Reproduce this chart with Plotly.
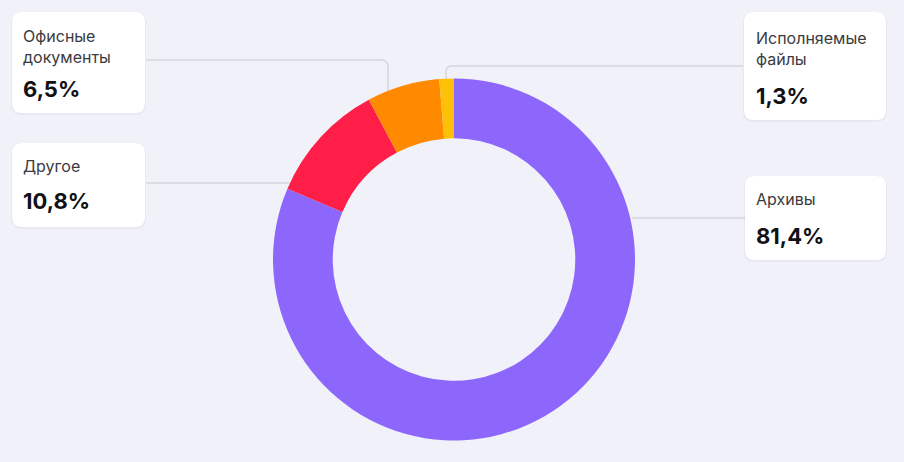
import plotly.graph_objects as go

# ---- data ----
categories = ["Архивы", "Другое", "Офисные документы", "Исполняемые файлы"]
values = [81.4, 10.8, 6.5, 1.3]
value_labels = ["81,4%", "10,8%", "6,5%", "1,3%"]
label_lines = ["Архивы", "Другое", "Офисные<br>документы", "Исполняемые<br>файлы"]
colors = ["#8D67FB", "#FF1E47", "#FF8A00", "#FFC00A"]

W, H = 904, 462
BG = "#F1F2F9"

fig = go.Figure()
fig.add_trace(go.Pie(
    labels=categories, values=values, sort=False, direction="clockwise",
    rotation=0, hole=0.67, textinfo="none", hoverinfo="label+percent",
    marker=dict(colors=colors, line=dict(width=0)),
    domain=dict(x=[273 / W, 635 / W], y=[(H - 441) / H, (H - 78) / H]),
    showlegend=False,
))

def rrect(x0, y0, x1, y1, r):
    return (f"M {x0+r} {y0} L {x1-r} {y0} Q {x1} {y0} {x1} {y0+r} "
            f"L {x1} {y1-r} Q {x1} {y1} {x1-r} {y1} L {x0+r} {y1} "
            f"Q {x0} {y1} {x0} {y1-r} L {x0} {y0+r} Q {x0} {y0} {x0+r} {y0} Z")

shapes = []
line_col = "#D3D5DD"
connectors = [
    "M 146 60 L 381 60 Q 388 60 388 67 L 388 92",
    "M 146 183 L 291 183",
    "M 743 66 L 452 66 Q 446 66 446 72 L 446 80",
    "M 632 218 L 745 218",
]
for p in connectors:
    shapes.append(dict(type="path", path=p, xref="x", yref="y",
                       line=dict(color=line_col, width=1.5), layer="below"))

boxes = {
    "Офисные документы": (12, 12, 145, 113),
    "Другое": (12, 143, 145, 227),
    "Исполняемые файлы": (744, 12, 886, 120),
    "Архивы": (745, 176, 886, 260),
}
for (x0, y0, x1, y1) in boxes.values():
    shapes.append(dict(type="path", path=rrect(x0 - 1, y0, x1 + 1, y1 + 2, 11),
                       xref="x", yref="y", fillcolor="rgba(60,60,110,0.05)",
                       line=dict(width=0), layer="below"))
    shapes.append(dict(type="path", path=rrect(x0, y0, x1, y1, 10),
                       xref="x", yref="y", fillcolor="#FFFFFF",
                       line=dict(width=0), layer="below"))

annotations = []
text_pos = {
    "Офисные документы": (21, 46, 89),
    "Другое": (21, 166, 201),
    "Исполняемые файлы": (754, 48, 96),
    "Архивы": (754, 199, 236),
}
for cat, lab, val in zip(categories, label_lines, value_labels):
    tx, ly, vy = text_pos[cat]
    annotations.append(dict(x=tx, y=ly, xref="x", yref="y", text=lab,
                            showarrow=False, xanchor="left", yanchor="middle",
                            align="left",
                            font=dict(family="Inter, Roboto, sans-serif", size=16, color="#3A3A40")))
    annotations.append(dict(x=tx, y=vy, xref="x", yref="y", text=f"<b>{val}</b>",
                            showarrow=False, xanchor="left", yanchor="middle",
                            font=dict(family="Inter, Roboto, sans-serif", size=22, color="#111114")))

fig.update_layout(
    width=W, height=H, margin=dict(l=0, r=0, t=0, b=0),
    paper_bgcolor=BG, plot_bgcolor=BG,
    xaxis=dict(range=[0, W], visible=False, fixedrange=True),
    yaxis=dict(range=[H, 0], visible=False, fixedrange=True),
    shapes=shapes, annotations=annotations,
)
fig.write_html("out.html", config={"displayModeBar": False},
               post_script="document.body.style.margin='0';document.body.style.background='" + BG + "';")
